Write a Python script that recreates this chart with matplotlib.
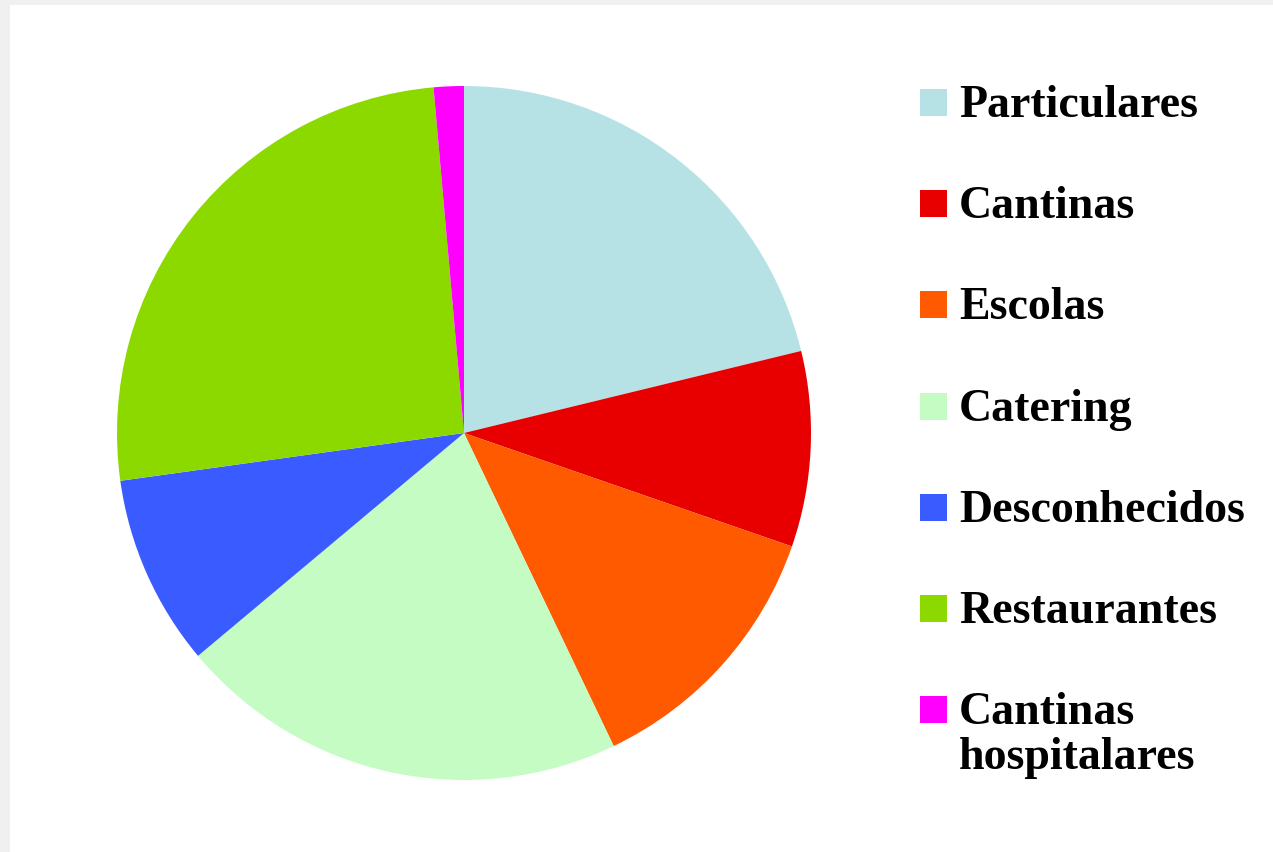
import matplotlib
matplotlib.use("Agg")
import matplotlib.pyplot as plt
from matplotlib.patches import Rectangle

# ---------------------------------------------------------------------------
# Data (shares, %)
# ---------------------------------------------------------------------------
labels = ["Particulares", "Cantinas", "Escolas", "Catering",
          "Desconhecidos", "Restaurantes", "Cantinas\nhospitalares"]
shares = [21.2, 9.1, 12.6, 21.0, 8.9, 25.8, 1.4]
colors = ["#B6E2E6", "#E80000", "#FF5A00", "#C4FCC4",
          "#3A5BFF", "#8CD900", "#FF00FF"]

W, H = 1273, 853
fig = plt.figure(figsize=(W / 100, H / 100), dpi=100, facecolor="#F0F0F0")

# white page with thin grey margin top/left
fig.patches.append(Rectangle((10 / W, 0), 1 - 10 / W, 1 - 6 / H,
                             transform=fig.transFigure, facecolor="white",
                             edgecolor="none", zorder=-5))

# pie centred at (464, 434) px, radius 347 px
cx, cy, r = 464 / W, 1 - 434 / H, 347
ax = fig.add_axes([cx - r / W, cy - r / H, 2 * r / W, 2 * r / H])
ax.set_zorder(2)
ax.patch.set_visible(False)
ax.pie(shares, colors=colors, startangle=90, counterclock=False, radius=1,
       wedgeprops=dict(linewidth=0))
ax.set_xlim(-1, 1)
ax.set_ylim(-1, 1)
ax.set_aspect("equal")
ax.axis("off")

# legend drawn by hand
sq = 27
for i, (lab, col) in enumerate(zip(labels, colors)):
    base = 117 + i * 101.2
    fig.patches.append(Rectangle((920 / W, 1 - base / H), sq / W, sq / H,
                                 transform=fig.transFigure, facecolor=col,
                                 edgecolor="none", zorder=2))
    lines = lab.split("\n")
    for j, line in enumerate(lines):
        fig.text(959 / W, 1 - (base + j * 45) / H, line,
                 family="Liberation Serif", weight="bold", fontsize=33,
                 color="black", va="baseline", ha="left")

fig.savefig("out.png", dpi=100, facecolor=fig.get_facecolor())
